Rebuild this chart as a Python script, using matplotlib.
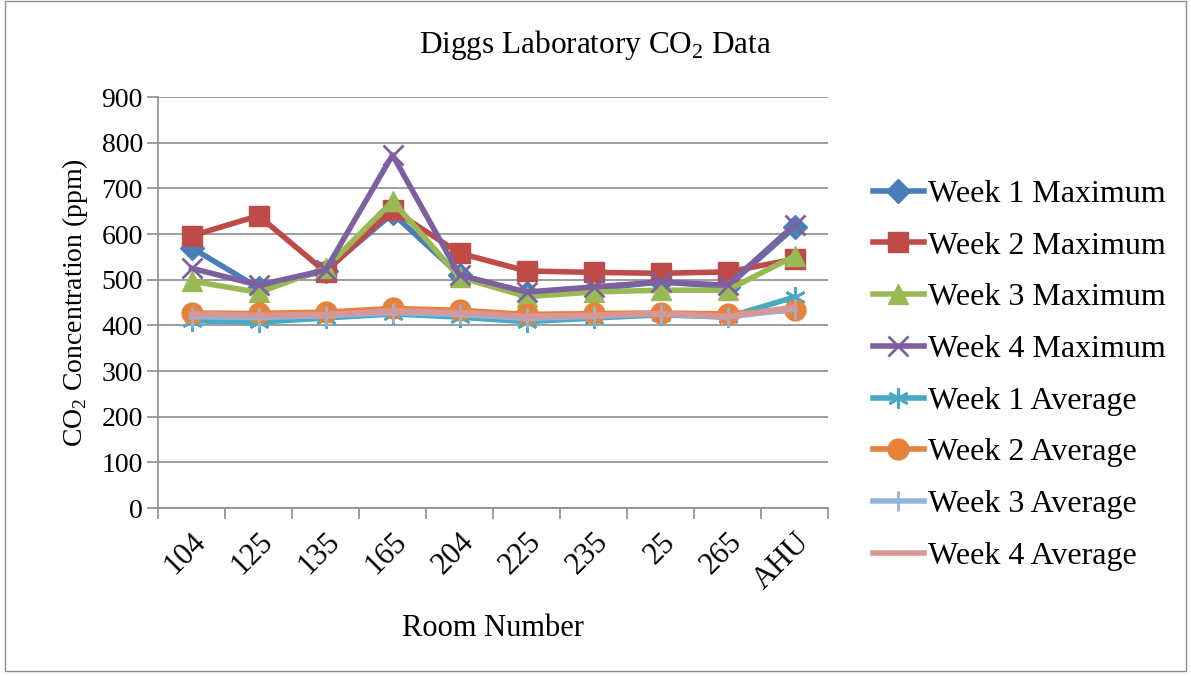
import numpy as np
import matplotlib
matplotlib.use("Agg")
import matplotlib.pyplot as plt
from matplotlib.patches import Rectangle

rooms = ["104", "125", "135", "165", "204", "225", "235", "25", "265", "AHU"]

week1_max = [570, 482, 520, 645, 510, 470, 480, 495, 485, 615]
week2_max = [596, 640, 517, 653, 558, 519, 516, 514, 517, 545]
week3_max = [497, 472, 525, 672, 505, 463, 473, 477, 477, 552]
week4_max = [525, 488, 521, 773, 510, 473, 484, 495, 488, 620]
week1_avg = [410, 407, 416, 425, 418, 408, 416, 423, 418, 462]
week2_avg = [427, 426, 429, 437, 433, 424, 426, 427, 425, 433]
week3_avg = [419, 417, 421, 428, 424, 415, 420, 425, 418, 436]
week4_avg = [425, 422, 424, 432, 428, 420, 422, 426, 420, 440]

plt.rcParams['font.family'] = ['Liberation Serif', 'DejaVu Serif']
plt.rcParams['mathtext.fontset'] = 'custom'
plt.rcParams['mathtext.rm'] = 'Liberation Serif'

fig = plt.figure(figsize=(11.91, 6.76), dpi=100)
ax = fig.add_axes([0.1327, 0.2485, 0.5626, 0.608])

x = np.arange(len(rooms))

# series: data, label, color, marker, marker size, marker edge width
series = [
    (week1_max, "Week 1 Maximum", "#4A7EBB", "D", 12, 1),
    (week2_max, "Week 2 Maximum", "#BE4B48", "s", 15, 1),
    (week3_max, "Week 3 Maximum", "#98B954", "^", 15, 1),
    (week4_max, "Week 4 Maximum", "#7D60A0", "x", 15, 2),
    (week1_avg, "Week 1 Average", "#46AAC5", (6, 2, 0), 15, 2),
    (week2_avg, "Week 2 Average", "#E5833C", "o", 15, 1),
    (week3_avg, "Week 3 Average", "#95B3D7", "|", 15, 2),
    (week4_avg, "Week 4 Average", "#D99694", "None", 0, 1),
]

for vals, label, color, marker, ms, mew in series:
    ax.plot(x, vals, color=color, linewidth=4, marker=marker, markersize=ms,
            markeredgewidth=mew, markeredgecolor=color, markerfacecolor=color,
            label=label, solid_joinstyle='round')

ax.set_xlim(-0.5, len(rooms) - 0.5)
ax.set_ylim(0, 900)
ax.set_yticks(np.arange(0, 901, 100))
ax.yaxis.grid(True, color="#8C8C8C", linewidth=1.2)
ax.set_axisbelow(True)

ax.set_xticks(x)
ax.set_xticklabels(rooms, rotation=45, ha='right', rotation_mode='anchor', fontsize=22)
ax.set_xticks(np.arange(-0.5, len(rooms)), minor=True)
ax.tick_params(axis='x', which='major', length=0, pad=14)
ax.tick_params(axis='x', which='minor', length=8, color="#8C8C8C", width=1.2)
ax.tick_params(axis='y', length=8, color="#8C8C8C", width=1.2, labelsize=20, pad=3)

for side in ['top', 'right']:
    ax.spines[side].set_visible(False)
for side in ['left', 'bottom']:
    ax.spines[side].set_color("#8C8C8C")
    ax.spines[side].set_linewidth(1.2)

fig.text(0.5, 0.933, "Diggs Laboratory CO$_2$ Data", fontsize=22.5,
         ha='center', va='center')
ax.set_ylabel("CO$_2$ Concentration (ppm)", fontsize=20, labelpad=8)
ax.set_xlabel("Room Number", fontsize=22, labelpad=14)

fig.legend(loc='center left', bbox_to_anchor=(0.722, 0.445), frameon=False,
           fontsize=23, handlelength=1.6, handletextpad=0.12, labelspacing=0.7,
           borderaxespad=0)

fig.patches.append(Rectangle((0.004, 0.008), 0.992, 0.99, transform=fig.transFigure,
                             fill=False, edgecolor="#8C8C8C", linewidth=1))

fig.savefig("out.png", dpi=100)
